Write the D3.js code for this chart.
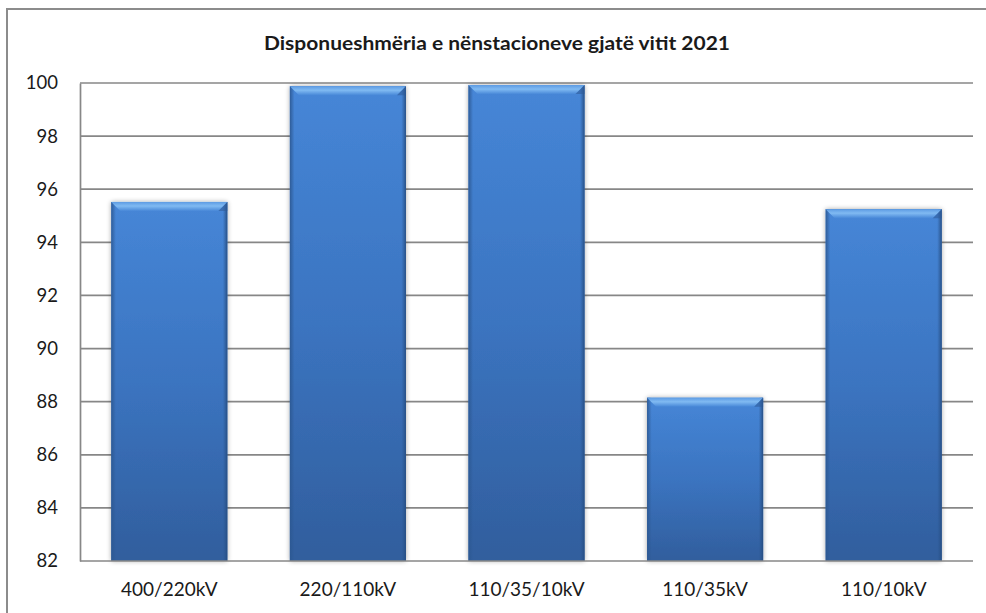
<!DOCTYPE html>
<html><head><meta charset="utf-8">
<script src="https://cdn.jsdelivr.net/npm/d3@7"></script>
<style>
html,body{margin:0;padding:0;background:#fff;}
svg{display:block;}
text{font-family:Lato,"Open Sans",sans-serif;fill:#1a1a1a;}
</style></head>
<body>
<svg id="chart" width="986" height="613"></svg>
<script>
const title = "Disponueshmëria e nënstacioneve gjatë vitit 2021";
const categories = ["400/220kV", "220/110kV", "110/35/10kV", "110/35kV", "110/10kV"];
const values = [95.52, 99.88, 99.92, 88.15, 95.25];
const yTicks = [82, 84, 86, 88, 90, 92, 94, 96, 98, 100];

const W = 986, H = 613;
const m = {left: 80, right: 973, top: 83, bottom: 561};
const svg = d3.select("#chart");

const defs = svg.append("defs");
const body = defs.append("linearGradient").attr("id","gBody").attr("x1",0).attr("y1",0).attr("x2",0).attr("y2",1);
body.append("stop").attr("offset","0%").attr("stop-color","#4686d7");
body.append("stop").attr("offset","50%").attr("stop-color","#3b74c0");
body.append("stop").attr("offset","100%").attr("stop-color","#315e9d");
const side = defs.append("linearGradient").attr("id","gSide").attr("x1",0).attr("y1",0).attr("x2",1).attr("y2",0);
side.append("stop").attr("offset","0%").attr("stop-color","#2c5892").attr("stop-opacity",0.9);
side.append("stop").attr("offset","4%").attr("stop-color","#2c5892").attr("stop-opacity",0);
side.append("stop").attr("offset","96%").attr("stop-color","#2c5892").attr("stop-opacity",0);
side.append("stop").attr("offset","100%").attr("stop-color","#254c80").attr("stop-opacity",0.95);
const bev = defs.append("linearGradient").attr("id","gBevel").attr("x1",0).attr("y1",0).attr("x2",0).attr("y2",1);
bev.append("stop").attr("offset","0%").attr("stop-color","#5d9be3");
bev.append("stop").attr("offset","45%").attr("stop-color","#80baf2");
bev.append("stop").attr("offset","100%").attr("stop-color","#4888d8");
const f = defs.append("filter").attr("id","shadow").attr("x","-20%").attr("y","-10%").attr("width","140%").attr("height","120%");
f.append("feGaussianBlur").attr("in","SourceAlpha").attr("stdDeviation",2.5).attr("result","b");
f.append("feOffset").attr("in","b").attr("dx",0).attr("dy",0).attr("result","o");
f.append("feComponentTransfer").attr("in","o").attr("result","s").append("feFuncA").attr("type","linear").attr("slope",0.35);
const fm = f.append("feMerge");
fm.append("feMergeNode").attr("in","s");
fm.append("feMergeNode").attr("in","SourceGraphic");

// outer frame
svg.append("rect").attr("x",7).attr("y",9).attr("width",990).attr("height",620)
  .attr("fill","#fff").attr("stroke","#8c8c8c").attr("stroke-width",2);

svg.append("text").attr("x",497).attr("y",50).attr("text-anchor","middle")
  .style("font-size","18px").style("font-weight","bold")
  .attr("textLength",466).attr("lengthAdjust","spacingAndGlyphs").text(title);

const x = d3.scaleBand().domain(categories).range([m.left, m.right]).paddingInner(0.35).paddingOuter(0.175);
const y = d3.scaleLinear().domain([82, 100]).range([m.bottom, m.top]);

// gridlines
svg.append("g").selectAll("line").data(yTicks.filter(t=>t>82)).join("line")
  .attr("x1",m.left).attr("x2",m.right).attr("y1",d=>y(d)).attr("y2",d=>y(d))
  .attr("stroke","#878787").attr("stroke-width",1.7);

// y axis
const yAxis = svg.append("g").attr("transform",`translate(${m.left},0)`)
  .call(d3.axisLeft(y).tickValues(yTicks).tickSize(0).tickPadding(22).tickFormat(d3.format("d")));
yAxis.select(".domain").attr("stroke","#878787").attr("stroke-width",1.7);
yAxis.selectAll("text").style("font-size","18.5px").style("font-family","Lato,sans-serif").attr("fill","#1a1a1a");

// bars
const bars = svg.append("g").selectAll("g").data(categories).join("g");
bars.append("rect").attr("x",d=>x(d)).attr("width",x.bandwidth())
  .attr("y",(d,i)=>y(values[i])).attr("height",(d,i)=>y(82)-y(values[i]))
  .attr("fill","url(#gBody)").attr("filter","url(#shadow)");
bars.append("rect").attr("x",d=>x(d)).attr("width",x.bandwidth())
  .attr("y",(d,i)=>y(values[i])).attr("height",(d,i)=>y(82)-y(values[i]))
  .attr("fill","url(#gSide)");
bars.append("path").attr("fill","url(#gBevel)").attr("d",(d,i)=>{
  const x0 = x(d), x1 = x(d)+x.bandwidth(), t = y(values[i]), b = 9;
  return `M${x0},${t}L${x1},${t}L${x1-b},${t+b}L${x0+b},${t+b}Z`;
});
bars.append("path").attr("fill","#2e5a96").attr("opacity",0.55).attr("d",(d,i)=>{
  const x1 = x(d)+x.bandwidth(), t = y(values[i]), b = 9;
  return `M${x1},${t}L${x1-b},${t+b}L${x1},${t+b}Z`;
});

// x axis line
svg.append("line").attr("x1",m.left).attr("x2",m.right).attr("y1",m.bottom).attr("y2",m.bottom)
  .attr("stroke","#878787").attr("stroke-width",1.7);

const xAxis = svg.append("g").attr("transform",`translate(0,${m.bottom})`)
  .call(d3.axisBottom(x).tickSize(0).tickPadding(22));
xAxis.select(".domain").remove();
xAxis.selectAll("text").style("font-size","19px").style("font-family","Lato,sans-serif").attr("fill","#1a1a1a");
</script>
</body></html>
